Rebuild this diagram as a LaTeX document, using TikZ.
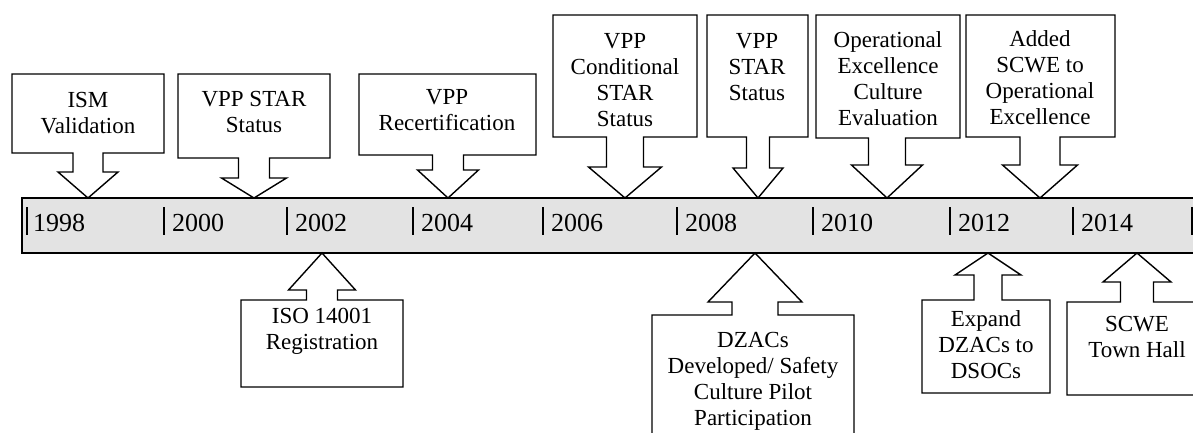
\documentclass[tikz,border=0pt]{standalone}
\usepackage{fontspec}
\setmainfont{Liberation Serif}
\newfontfamily\timesfont{Liberation Serif}
\pgfdeclarelayer{nodelayer}
\pgfdeclarelayer{edgelayer}
\pgfsetlayers{edgelayer,nodelayer,main}
\tikzstyle{calloutbox}=[fill=white, draw=black, line width=1.4pt, line join=miter]
\tikzstyle{eventtext}=[align=center, inner sep=0pt, font=\timesfont\fontsize{23}{26}\selectfont]
\tikzstyle{year}=[anchor=base west, inner sep=0pt, font=\timesfont\fontsize{26}{30}\selectfont]
\tikzstyle{tick}=[line width=2.4pt]
\tikzstyle{timebar}=[fill=black!11, draw=black, line width=1.6pt]
% box left, box right, box top, box bottom, tip x, shaft half width, head half width, head top
\newcommand{\downcallout}[8]{%
  \draw [style=calloutbox] (#1,#3) -- (#2,#3) -- (#2,#4) -- ({#5+#6},#4) -- ({#5+#6},#8)
    -- ({#5+#7},#8) -- (#5,198) -- ({#5-#7},#8) -- ({#5-#6},#8) -- ({#5-#6},#4) -- (#1,#4) -- cycle;}
% box left, box right, box top, box bottom, tip x, shaft half width, head half width, head bottom
\newcommand{\upcallout}[8]{%
  \draw [style=calloutbox] (#1,#3) -- ({#5-#6},#3) -- ({#5-#6},#8) -- ({#5-#7},#8) -- (#5,253)
    -- ({#5+#7},#8) -- ({#5+#6},#8) -- ({#5+#6},#3) -- (#2,#3) -- (#2,#4) -- (#1,#4) -- cycle;}

\begin{document}
\begin{tikzpicture}[x=1pt, y=-1pt]
	\useasboundingbox (0,0) rectangle (1193,432);
	\begin{pgfonlayer}{edgelayer}
		\draw [style=timebar] (22,198) rectangle (1210,253);
		\draw [style=tick] (27,207) -- (27,235);
		\draw [style=tick] (164,207) -- (164,235);
		\draw [style=tick] (287,207) -- (287,235);
		\draw [style=tick] (413,207) -- (413,235);
		\draw [style=tick] (543,207) -- (543,235);
		\draw [style=tick] (677,207) -- (677,235);
		\draw [style=tick] (813,207) -- (813,235);
		\draw [style=tick] (950,207) -- (950,235);
		\draw [style=tick] (1073,207) -- (1073,235);
		\draw [style=tick] (1192,207) -- (1192,235);
		% above the line
		\downcallout{12}{164}{74}{153}{88}{15}{30}{172}
		\downcallout{178}{330}{74}{158}{254}{15.5}{32.5}{178}
		\downcallout{359}{536}{74}{155}{448}{15.5}{30.5}{170}
		\downcallout{553}{697}{15}{137}{625}{18.5}{36.5}{167}
		\downcallout{707}{808}{15}{137}{758}{11.5}{25}{168}
		\downcallout{816}{960}{15}{138}{887}{18.5}{35.5}{165}
		\downcallout{966}{1115}{15}{137}{1040}{20}{37.5}{165}
		% below the line
		\upcallout{241}{403}{300}{387}{322}{15.5}{33.5}{290}
		\upcallout{652}{854}{315}{450}{755}{23}{47}{302}
		\upcallout{922}{1050}{300}{393}{988}{14}{33}{275}
		\upcallout{1067}{1210}{302}{395}{1137}{16.5}{34}{282}
	\end{pgfonlayer}
	\begin{pgfonlayer}{nodelayer}
		\node [style=year] (y1998) at (33,231) {1998};
		\node [style=year] (y2000) at (172,231) {2000};
		\node [style=year] (y2002) at (295,231) {2002};
		\node [style=year] (y2004) at (421,231) {2004};
		\node [style=year] (y2006) at (551,231) {2006};
		\node [style=year] (y2008) at (685,231) {2008};
		\node [style=year] (y2010) at (821,231) {2010};
		\node [style=year] (y2012) at (958,231) {2012};
		\node [style=year] (y2014) at (1081,231) {2014};
		\node [style=eventtext] (ism) at (88,113) {ISM\\Validation};
		\node [style=eventtext] (vppstar) at (254,112) {VPP STAR\\Status};
		\node [style=eventtext] (recert) at (447,110) {VPP\\Recertification};
		\node [style=eventtext] (condstar) at (625,80) {VPP\\Conditional\\STAR\\Status};
		\node [style=eventtext] (vppstarb) at (757,67) {VPP\\STAR\\Status};
		\node [style=eventtext] (opex) at (888,79) {Operational\\Excellence\\Culture\\Evaluation};
		\node [style=eventtext] (scweopex) at (1040,78) {Added\\SCWE to\\Operational\\Excellence};
		\node [style=eventtext] (iso) at (322,331) {ISO 14001\\Registration};
		\node [style=eventtext] (dzac) at (753,381) {DZACs\\Developed/ Safety\\Culture Pilot\\Participation};
		\node [style=eventtext] (dsoc) at (986,345) {Expand\\DZACs to\\DSOCs};
		\node [style=eventtext] (townhall) at (1137,337) {SCWE\\Town Hall};
	\end{pgfonlayer}
\end{tikzpicture}
\end{document}
